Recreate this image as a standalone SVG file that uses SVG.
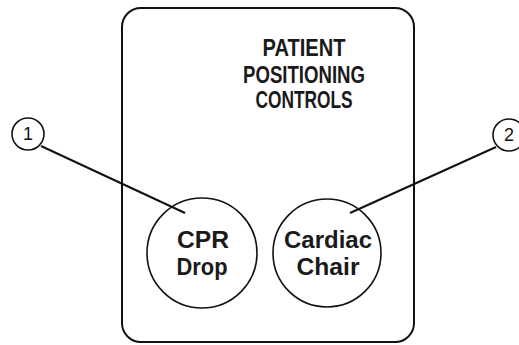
<svg xmlns="http://www.w3.org/2000/svg" width="519" height="345" viewBox="0 0 519 345">
<style>
.ln{fill:none;stroke:#111;stroke-width:2}
.cl{fill:#fff;stroke:#111;stroke-width:1.6}
.tt{font-family:"Liberation Sans",Arial,sans-serif;font-weight:bold;fill:#1a1a1a;text-anchor:middle}
.nm{font-family:"Liberation Sans",Arial,sans-serif;font-size:18px;fill:#111;text-anchor:middle}
</style>
<rect width="519" height="345" fill="#fff"/>
<g id="panel">
<rect x="122" y="8" width="292" height="334" rx="19" class="ln"/>
<text class="tt" x="304" y="56" font-size="24" textLength="83" lengthAdjust="spacingAndGlyphs">PATIENT</text>
<text class="tt" x="304" y="83" font-size="24" textLength="122" lengthAdjust="spacingAndGlyphs">POSITIONING</text>
<text class="tt" x="304" y="108" font-size="24" textLength="97" lengthAdjust="spacingAndGlyphs">CONTROLS</text>
</g>
<g id="connectors">
<line class="ln" x1="41" y1="146" x2="185" y2="213"/>
<line class="ln" x1="496" y1="147" x2="350" y2="213"/>
</g>
<g id="cpr-drop">
<circle class="cl" cx="202" cy="253" r="55" style="fill:none"/>
<text class="tt" x="203" y="248" font-size="24" textLength="52" lengthAdjust="spacingAndGlyphs">CPR</text>
<text class="tt" x="202" y="275" font-size="24" textLength="51" lengthAdjust="spacingAndGlyphs">Drop</text>
</g>
<g id="cardiac-chair">
<circle class="cl" cx="327" cy="253" r="54" style="fill:none"/>
<text class="tt" x="328" y="248" font-size="24" textLength="88" lengthAdjust="spacingAndGlyphs">Cardiac</text>
<text class="tt" x="328" y="275" font-size="24" textLength="63" lengthAdjust="spacingAndGlyphs">Chair</text>
</g>
<g id="callout-1">
<circle class="cl" cx="28" cy="134" r="16"/>
<text class="nm" x="28" y="140">1</text>
</g>
<g id="callout-2">
<circle class="cl" cx="509" cy="135" r="16"/>
<text class="nm" x="509" y="141">2</text>
</g>
</svg>
